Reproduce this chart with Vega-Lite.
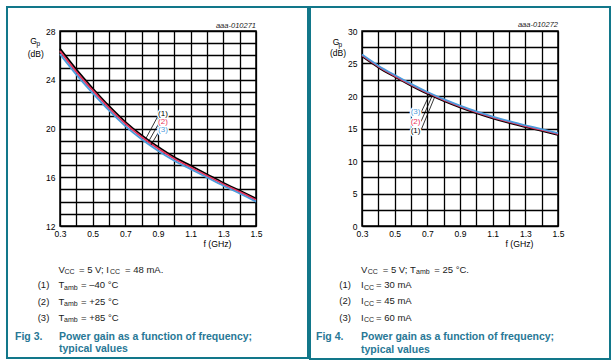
{
  "$schema": "https://vega.github.io/schema/vega-lite/v6.json",
  "padding": {"left": 5, "top": 5, "right": 5, "bottom": 3},
  "background": "white",
  "spacing": 106,
  "bounds": "flush",
  "config": {
    "font": "Liberation Sans",
    "view": {"stroke": "black", "strokeWidth": 1.5},
    "axis": {
      "grid": true, "gridColor": "black", "gridWidth": 1.3, "gridOpacity": 1,
      "ticks": false, "domain": false, "labelFontSize": 8.5, "labelColor": "black",
      "labelFlush": false, "labelOverlap": false, "labelFont": "Liberation Sans"
    }
  },
  "resolve": {"scale": {"x": "independent", "y": "independent"}},
  "datasets": {
    "curves": [
      {"panel":"L","series":"1","freq":0.3,"gain":26.55},{"panel":"L","series":"1","freq":0.4,"gain":24.85},{"panel":"L","series":"1","freq":0.5,"gain":23.3},{"panel":"L","series":"1","freq":0.6,"gain":21.85},{"panel":"L","series":"1","freq":0.7,"gain":20.55},{"panel":"L","series":"1","freq":0.8,"gain":19.45},{"panel":"L","series":"1","freq":0.9,"gain":18.5},{"panel":"L","series":"1","freq":1.0,"gain":17.65},{"panel":"L","series":"1","freq":1.1,"gain":16.95},{"panel":"L","series":"1","freq":1.2,"gain":16.25},{"panel":"L","series":"1","freq":1.3,"gain":15.55},{"panel":"L","series":"1","freq":1.4,"gain":14.9},{"panel":"L","series":"1","freq":1.5,"gain":14.25},
      {"panel":"L","series":"2","freq":0.3,"gain":26.35},{"panel":"L","series":"2","freq":0.4,"gain":24.65},{"panel":"L","series":"2","freq":0.5,"gain":23.12},{"panel":"L","series":"2","freq":0.6,"gain":21.68},{"panel":"L","series":"2","freq":0.7,"gain":20.4},{"panel":"L","series":"2","freq":0.8,"gain":19.3},{"panel":"L","series":"2","freq":0.9,"gain":18.35},{"panel":"L","series":"2","freq":1.0,"gain":17.52},{"panel":"L","series":"2","freq":1.1,"gain":16.82},{"panel":"L","series":"2","freq":1.2,"gain":16.12},{"panel":"L","series":"2","freq":1.3,"gain":15.43},{"panel":"L","series":"2","freq":1.4,"gain":14.8},{"panel":"L","series":"2","freq":1.5,"gain":14.13},
      {"panel":"L","series":"3","freq":0.3,"gain":26.1},{"panel":"L","series":"3","freq":0.4,"gain":24.42},{"panel":"L","series":"3","freq":0.5,"gain":22.9},{"panel":"L","series":"3","freq":0.6,"gain":21.48},{"panel":"L","series":"3","freq":0.7,"gain":20.2},{"panel":"L","series":"3","freq":0.8,"gain":19.12},{"panel":"L","series":"3","freq":0.9,"gain":18.18},{"panel":"L","series":"3","freq":1.0,"gain":17.36},{"panel":"L","series":"3","freq":1.1,"gain":16.67},{"panel":"L","series":"3","freq":1.2,"gain":15.98},{"panel":"L","series":"3","freq":1.3,"gain":15.3},{"panel":"L","series":"3","freq":1.4,"gain":14.67},{"panel":"L","series":"3","freq":1.5,"gain":14.0},
      {"panel":"R","series":"1","freq":0.3,"gain":26.1},{"panel":"R","series":"1","freq":0.4,"gain":24.4},{"panel":"R","series":"1","freq":0.5,"gain":22.95},{"panel":"R","series":"1","freq":0.6,"gain":21.6},{"panel":"R","series":"1","freq":0.7,"gain":20.35},{"panel":"R","series":"1","freq":0.8,"gain":19.25},{"panel":"R","series":"1","freq":0.9,"gain":18.25},{"panel":"R","series":"1","freq":1.0,"gain":17.35},{"panel":"R","series":"1","freq":1.1,"gain":16.55},{"panel":"R","series":"1","freq":1.2,"gain":15.85},{"panel":"R","series":"1","freq":1.3,"gain":15.23},{"panel":"R","series":"1","freq":1.4,"gain":14.62},{"panel":"R","series":"1","freq":1.5,"gain":14.0},
      {"panel":"R","series":"2","freq":0.3,"gain":26.25},{"panel":"R","series":"2","freq":0.4,"gain":24.55},{"panel":"R","series":"2","freq":0.5,"gain":23.1},{"panel":"R","series":"2","freq":0.6,"gain":21.75},{"panel":"R","series":"2","freq":0.7,"gain":20.5},{"panel":"R","series":"2","freq":0.8,"gain":19.4},{"panel":"R","series":"2","freq":0.9,"gain":18.4},{"panel":"R","series":"2","freq":1.0,"gain":17.5},{"panel":"R","series":"2","freq":1.1,"gain":16.7},{"panel":"R","series":"2","freq":1.2,"gain":16.0},{"panel":"R","series":"2","freq":1.3,"gain":15.38},{"panel":"R","series":"2","freq":1.4,"gain":14.77},{"panel":"R","series":"2","freq":1.5,"gain":14.15},
      {"panel":"R","series":"3","freq":0.3,"gain":26.37},{"panel":"R","series":"3","freq":0.4,"gain":24.67},{"panel":"R","series":"3","freq":0.5,"gain":23.22},{"panel":"R","series":"3","freq":0.6,"gain":21.87},{"panel":"R","series":"3","freq":0.7,"gain":20.62},{"panel":"R","series":"3","freq":0.8,"gain":19.52},{"panel":"R","series":"3","freq":0.9,"gain":18.52},{"panel":"R","series":"3","freq":1.0,"gain":17.62},{"panel":"R","series":"3","freq":1.1,"gain":16.82},{"panel":"R","series":"3","freq":1.2,"gain":16.12},{"panel":"R","series":"3","freq":1.3,"gain":15.5},{"panel":"R","series":"3","freq":1.4,"gain":14.89},{"panel":"R","series":"3","freq":1.5,"gain":14.27}
    ],
    "leaders": [
      {"panel":"L","series":"1","freq":0.9,"gain":21.03,"freq2":0.8265,"gain2":19.2},
      {"panel":"L","series":"2","freq":0.902,"gain":20.35,"freq2":0.843,"gain2":18.95},
      {"panel":"L","series":"3","freq":0.906,"gain":19.75,"freq2":0.857,"gain2":18.65},
      {"panel":"R","series":"3","freq":0.661,"gain":17.43,"freq2":0.715,"gain2":20.3},
      {"panel":"R","series":"2","freq":0.661,"gain":16.05,"freq2":0.73,"gain2":20.05},
      {"panel":"R","series":"1","freq":0.661,"gain":14.72,"freq2":0.745,"gain2":19.85}
    ],
    "labels": [
      {"panel":"L","series":"1","freq":0.9306,"gain":21.23,"text":"(1)"},
      {"panel":"L","series":"2","freq":0.9306,"gain":20.53,"text":"(2)"},
      {"panel":"L","series":"3","freq":0.9306,"gain":19.84,"text":"(3)"},
      {"panel":"R","series":"3","freq":0.628,"gain":17.54,"text":"(3)"},
      {"panel":"R","series":"2","freq":0.628,"gain":16.0,"text":"(2)"},
      {"panel":"R","series":"1","freq":0.628,"gain":14.62,"text":"(1)"}
    ],
    "notes": [
      {"panel":"L","style":"body","freq":0.2908,"gain":8.406,"text":"V"},
      {"panel":"L","style":"sub","freq":0.3276,"gain":8.201,"text":"CC"},
      {"panel":"L","style":"body","freq":0.4163,"gain":8.406,"text":"= 5 V; I"},
      {"panel":"L","style":"sub","freq":0.6061,"gain":8.201,"text":"CC"},
      {"panel":"L","style":"body","freq":0.698,"gain":8.406,"text":"= 48 mA."},
      {"panel":"L","style":"body","freq":0.1635,"gain":7.134,"text":"(1)"},
      {"panel":"L","style":"body","freq":0.2908,"gain":7.134,"text":"T"},
      {"panel":"L","style":"sub","freq":0.3245,"gain":6.929,"text":"amb"},
      {"panel":"L","style":"body","freq":0.4286,"gain":7.134,"text":"= –40 °C"},
      {"panel":"L","style":"body","freq":0.1635,"gain":5.805,"text":"(2)"},
      {"panel":"L","style":"body","freq":0.2908,"gain":5.805,"text":"T"},
      {"panel":"L","style":"sub","freq":0.3245,"gain":5.6,"text":"amb"},
      {"panel":"L","style":"body","freq":0.4286,"gain":5.805,"text":"= +25 °C"},
      {"panel":"L","style":"body","freq":0.1635,"gain":4.492,"text":"(3)"},
      {"panel":"L","style":"body","freq":0.2908,"gain":4.492,"text":"T"},
      {"panel":"L","style":"sub","freq":0.3245,"gain":4.287,"text":"amb"},
      {"panel":"L","style":"body","freq":0.4286,"gain":4.492,"text":"= +85 °C"},
      {"panel":"L","style":"fig","freq":0.0245,"gain":2.892,"text":"Fig 3."},
      {"panel":"L","style":"fig","freq":0.2939,"gain":2.892,"text":"Power gain as a function of frequency;"},
      {"panel":"L","style":"fig","freq":0.2939,"gain":1.867,"text":"typical values"},
      {"panel":"L","style":"title","freq":0.1182,"gain":27.179,"text":"G"},
      {"panel":"L","style":"tsub","freq":0.1561,"gain":26.933,"text":"p"},
      {"panel":"L","style":"title","freq":0.1022,"gain":26.137,"text":"(dB)"},
      {"panel":"L","style":"code","freq":1.5,"gain":28.41,"text":"aaa-010271"},
      {"panel":"R","style":"body","freq":0.2939,"gain":-6.738,"text":"V"},
      {"panel":"R","style":"sub","freq":0.3349,"gain":-7.123,"text":"CC"},
      {"panel":"R","style":"body","freq":0.4267,"gain":-6.738,"text":"= 5 V; T"},
      {"panel":"R","style":"sub","freq":0.6306,"gain":-7.123,"text":"amb"},
      {"panel":"R","style":"body","freq":0.7427,"gain":-6.738,"text":"= 25 °C."},
      {"panel":"R","style":"body","freq":0.161,"gain":-9.123,"text":"(1)"},
      {"panel":"R","style":"body","freq":0.2939,"gain":-9.123,"text":"I"},
      {"panel":"R","style":"sub","freq":0.3122,"gain":-9.508,"text":"CC"},
      {"panel":"R","style":"body","freq":0.3857,"gain":-9.123,"text":"= 30 mA"},
      {"panel":"R","style":"body","freq":0.161,"gain":-11.615,"text":"(2)"},
      {"panel":"R","style":"body","freq":0.2939,"gain":-11.615,"text":"I"},
      {"panel":"R","style":"sub","freq":0.3122,"gain":-12.0,"text":"CC"},
      {"panel":"R","style":"body","freq":0.3857,"gain":-11.615,"text":"= 45 mA"},
      {"panel":"R","style":"body","freq":0.161,"gain":-14.077,"text":"(3)"},
      {"panel":"R","style":"body","freq":0.2939,"gain":-14.077,"text":"I"},
      {"panel":"R","style":"sub","freq":0.3122,"gain":-14.462,"text":"CC"},
      {"panel":"R","style":"body","freq":0.3857,"gain":-14.077,"text":"= 60 mA"},
      {"panel":"R","style":"fig","freq":0.0184,"gain":-17.077,"text":"Fig 4."},
      {"panel":"R","style":"fig","freq":0.2939,"gain":-17.077,"text":"Power gain as a function of frequency;"},
      {"panel":"R","style":"fig","freq":0.2939,"gain":-19.0,"text":"typical values"},
      {"panel":"R","style":"title","freq":0.1206,"gain":28.308,"text":"G"},
      {"panel":"R","style":"tsub","freq":0.1561,"gain":27.846,"text":"p"},
      {"panel":"R","style":"title","freq":0.1041,"gain":26.615,"text":"(dB)"},
      {"panel":"R","style":"code","freq":1.5,"gain":30.92,"text":"aaa-010272"}
    ]
  },
  "hconcat": [
    {
      "width": 196, "height": 195,
      "resolve": {"axis": {"x": "independent", "y": "independent"}},
      "layer": [
        {
          "data": {"name": "curves"},
          "transform": [{"filter": "datum.panel === 'L'"}],
          "mark": {"type": "line", "interpolate": "monotone", "strokeWidth": 1.8},
          "encoding": {
            "x": {"field": "freq", "type": "quantitative",
              "scale": {"domain": [0.3, 1.5], "nice": false, "zero": false},
              "axis": {"values": [0.3,0.4,0.5,0.6,0.7,0.8,0.9,1.0,1.1,1.2,1.3,1.4,1.5],
                "labelExpr": "round(datum.value*10) % 2 === 1 ? format(datum.value, '.1f') : ''",
                "labelPadding": 3, "title": "f (GHz)", "titleFontSize": 8.7, "titleFontWeight": "normal",
                "titleX": 157, "titleY": 17.5, "titleBaseline": "middle", "titleAlign": "center", "titleColor": "black"}},
            "y": {"field": "gain", "type": "quantitative",
              "scale": {"domain": [12, 28], "nice": false, "zero": false},
              "axis": {"values": [12,13,14,15,16,17,18,19,20,21,22,23,24,25,26,27,28],
                "labelExpr": "datum.value % 4 === 0 ? format(datum.value, 'd') : ''",
                "labelPadding": 5, "title": null}},
            "color": {"field": "series", "type": "nominal",
              "scale": {"domain": ["1","2","3"], "range": ["#000000","#e8335c","#4b9bdc"]}, "legend": null}
          }
        },
        {
          "data": {"name": "leaders"},
          "transform": [{"filter": "datum.panel === 'L'"}],
          "mark": {"type": "rule", "color": "black", "strokeWidth": 0.8},
          "encoding": {
            "x": {"field": "freq", "type": "quantitative", "axis": null},
            "y": {"field": "gain", "type": "quantitative", "axis": null},
            "x2": {"field": "freq2"}, "y2": {"field": "gain2"}
          }
        },
        {
          "data": {"name": "labels"},
          "transform": [{"filter": "datum.panel === 'L'"}],
          "mark": {"type": "text", "fontSize": 8, "align": "center", "baseline": "middle", "stroke": "white", "strokeWidth": 3, "fill": "white"},
          "encoding": {
            "x": {"field": "freq", "type": "quantitative", "axis": null},
            "y": {"field": "gain", "type": "quantitative", "axis": null},
            "text": {"field": "text"}
          }
        },
        {
          "data": {"name": "labels"},
          "transform": [{"filter": "datum.panel === 'L'"}],
          "mark": {"type": "text", "fontSize": 8, "align": "center", "baseline": "middle"},
          "encoding": {
            "x": {"field": "freq", "type": "quantitative", "axis": null},
            "y": {"field": "gain", "type": "quantitative", "axis": null},
            "text": {"field": "text"},
            "color": {"field": "series", "type": "nominal", "legend": null}
          }
        },
        {
          "data": {"name": "notes"},
          "transform": [{"filter": "datum.panel === 'L' && datum.style === 'body'"}],
          "mark": {"type": "text", "fontSize": 9.5, "align": "left", "baseline": "middle", "color": "#1a1a1a"},
          "encoding": {"x": {"field": "freq", "type": "quantitative", "axis": null}, "y": {"field": "gain", "type": "quantitative", "axis": null}, "text": {"field": "text"}}
        },
        {
          "data": {"name": "notes"},
          "transform": [{"filter": "datum.panel === 'L' && datum.style === 'sub'"}],
          "mark": {"type": "text", "fontSize": 7, "align": "left", "baseline": "middle", "color": "#1a1a1a"},
          "encoding": {"x": {"field": "freq", "type": "quantitative", "axis": null}, "y": {"field": "gain", "type": "quantitative", "axis": null}, "text": {"field": "text"}}
        },
        {
          "data": {"name": "notes"},
          "transform": [{"filter": "datum.panel === 'L' && datum.style === 'fig'"}],
          "mark": {"type": "text", "fontSize": 10.5, "fontWeight": "bold", "align": "left", "baseline": "middle", "color": "#287896"},
          "encoding": {"x": {"field": "freq", "type": "quantitative", "axis": null}, "y": {"field": "gain", "type": "quantitative", "axis": null}, "text": {"field": "text"}}
        },
        {
          "data": {"name": "notes"},
          "transform": [{"filter": "datum.panel === 'L' && datum.style === 'title'"}],
          "mark": {"type": "text", "fontSize": 8.5, "align": "left", "baseline": "middle", "color": "black"},
          "encoding": {"x": {"field": "freq", "type": "quantitative", "axis": null}, "y": {"field": "gain", "type": "quantitative", "axis": null}, "text": {"field": "text"}}
        },
        {
          "data": {"name": "notes"},
          "transform": [{"filter": "datum.panel === 'L' && datum.style === 'tsub'"}],
          "mark": {"type": "text", "fontSize": 6.5, "align": "left", "baseline": "middle", "color": "black"},
          "encoding": {"x": {"field": "freq", "type": "quantitative", "axis": null}, "y": {"field": "gain", "type": "quantitative", "axis": null}, "text": {"field": "text"}}
        },
        {
          "data": {"name": "notes"},
          "transform": [{"filter": "datum.panel === 'L' && datum.style === 'code'"}],
          "mark": {"type": "text", "fontSize": 7.5, "fontStyle": "italic", "align": "right", "baseline": "middle", "color": "#222222"},
          "encoding": {"x": {"field": "freq", "type": "quantitative", "axis": null}, "y": {"field": "gain", "type": "quantitative", "axis": null}, "text": {"field": "text"}}
        },
        {
          "data": {"values": [{}]},
          "mark": {"type": "rect", "filled": false, "stroke": "#12778a", "strokeWidth": 2},
          "encoding": {
            "x": {"datum": -0.0245, "type": "quantitative", "axis": null},
            "x2": {"datum": 1.8184},
            "y": {"datum": 29.97, "type": "quantitative", "axis": null},
            "y2": {"datum": 1.169}
          }
        }
      ]
    },
    {
      "width": 196, "height": 195,
      "resolve": {"axis": {"x": "independent", "y": "independent"}},
      "layer": [
        {
          "data": {"name": "curves"},
          "transform": [{"filter": "datum.panel === 'R'"}],
          "mark": {"type": "line", "interpolate": "monotone", "strokeWidth": 1.8},
          "encoding": {
            "x": {"field": "freq", "type": "quantitative",
              "scale": {"domain": [0.3, 1.5], "nice": false, "zero": false},
              "axis": {"values": [0.3,0.4,0.5,0.6,0.7,0.8,0.9,1.0,1.1,1.2,1.3,1.4,1.5],
                "labelExpr": "round(datum.value*10) % 2 === 1 ? format(datum.value, '.1f') : ''",
                "labelPadding": 3, "title": "f (GHz)", "titleFontSize": 8.7, "titleFontWeight": "normal",
                "titleX": 157, "titleY": 17.5, "titleBaseline": "middle", "titleAlign": "center", "titleColor": "black"}},
            "y": {"field": "gain", "type": "quantitative",
              "scale": {"domain": [0, 30], "nice": false, "zero": false},
              "axis": {"values": [0,2.5,5,7.5,10,12.5,15,17.5,20,22.5,25,27.5,30],
                "labelExpr": "datum.value % 5 === 0 ? format(datum.value, 'd') : ''",
                "labelPadding": 5, "title": null}},
            "color": {"field": "series", "type": "nominal",
              "scale": {"domain": ["1","2","3"], "range": ["#000000","#e8335c","#4b9bdc"]}, "legend": null}
          }
        },
        {
          "data": {"name": "leaders"},
          "transform": [{"filter": "datum.panel === 'R'"}],
          "mark": {"type": "rule", "color": "black", "strokeWidth": 0.8},
          "encoding": {
            "x": {"field": "freq", "type": "quantitative", "axis": null},
            "y": {"field": "gain", "type": "quantitative", "axis": null},
            "x2": {"field": "freq2"}, "y2": {"field": "gain2"}
          }
        },
        {
          "data": {"name": "labels"},
          "transform": [{"filter": "datum.panel === 'R'"}],
          "mark": {"type": "text", "fontSize": 8, "align": "center", "baseline": "middle", "stroke": "white", "strokeWidth": 3, "fill": "white"},
          "encoding": {
            "x": {"field": "freq", "type": "quantitative", "axis": null},
            "y": {"field": "gain", "type": "quantitative", "axis": null},
            "text": {"field": "text"}
          }
        },
        {
          "data": {"name": "labels"},
          "transform": [{"filter": "datum.panel === 'R'"}],
          "mark": {"type": "text", "fontSize": 8, "align": "center", "baseline": "middle"},
          "encoding": {
            "x": {"field": "freq", "type": "quantitative", "axis": null},
            "y": {"field": "gain", "type": "quantitative", "axis": null},
            "text": {"field": "text"},
            "color": {"field": "series", "type": "nominal", "legend": null}
          }
        },
        {
          "data": {"name": "notes"},
          "transform": [{"filter": "datum.panel === 'R' && datum.style === 'body'"}],
          "mark": {"type": "text", "fontSize": 9.5, "align": "left", "baseline": "middle", "color": "#1a1a1a"},
          "encoding": {"x": {"field": "freq", "type": "quantitative", "axis": null}, "y": {"field": "gain", "type": "quantitative", "axis": null}, "text": {"field": "text"}}
        },
        {
          "data": {"name": "notes"},
          "transform": [{"filter": "datum.panel === 'R' && datum.style === 'sub'"}],
          "mark": {"type": "text", "fontSize": 7, "align": "left", "baseline": "middle", "color": "#1a1a1a"},
          "encoding": {"x": {"field": "freq", "type": "quantitative", "axis": null}, "y": {"field": "gain", "type": "quantitative", "axis": null}, "text": {"field": "text"}}
        },
        {
          "data": {"name": "notes"},
          "transform": [{"filter": "datum.panel === 'R' && datum.style === 'fig'"}],
          "mark": {"type": "text", "fontSize": 10.5, "fontWeight": "bold", "align": "left", "baseline": "middle", "color": "#287896"},
          "encoding": {"x": {"field": "freq", "type": "quantitative", "axis": null}, "y": {"field": "gain", "type": "quantitative", "axis": null}, "text": {"field": "text"}}
        },
        {
          "data": {"name": "notes"},
          "transform": [{"filter": "datum.panel === 'R' && datum.style === 'title'"}],
          "mark": {"type": "text", "fontSize": 8.5, "align": "left", "baseline": "middle", "color": "black"},
          "encoding": {"x": {"field": "freq", "type": "quantitative", "axis": null}, "y": {"field": "gain", "type": "quantitative", "axis": null}, "text": {"field": "text"}}
        },
        {
          "data": {"name": "notes"},
          "transform": [{"filter": "datum.panel === 'R' && datum.style === 'tsub'"}],
          "mark": {"type": "text", "fontSize": 6.5, "align": "left", "baseline": "middle", "color": "black"},
          "encoding": {"x": {"field": "freq", "type": "quantitative", "axis": null}, "y": {"field": "gain", "type": "quantitative", "axis": null}, "text": {"field": "text"}}
        },
        {
          "data": {"name": "notes"},
          "transform": [{"filter": "datum.panel === 'R' && datum.style === 'code'"}],
          "mark": {"type": "text", "fontSize": 7.5, "fontStyle": "italic", "align": "right", "baseline": "middle", "color": "#222222"},
          "encoding": {"x": {"field": "freq", "type": "quantitative", "axis": null}, "y": {"field": "gain", "type": "quantitative", "axis": null}, "text": {"field": "text"}}
        },
        {
          "data": {"values": [{}]},
          "mark": {"type": "rect", "filled": false, "stroke": "#12778a", "strokeWidth": 2},
          "encoding": {
            "x": {"datum": -0.0184, "type": "quantitative", "axis": null},
            "x2": {"datum": 1.8184},
            "y": {"datum": 33.692, "type": "quantitative", "axis": null},
            "y2": {"datum": -20.462}
          }
        }
      ]
    }
  ]
}
